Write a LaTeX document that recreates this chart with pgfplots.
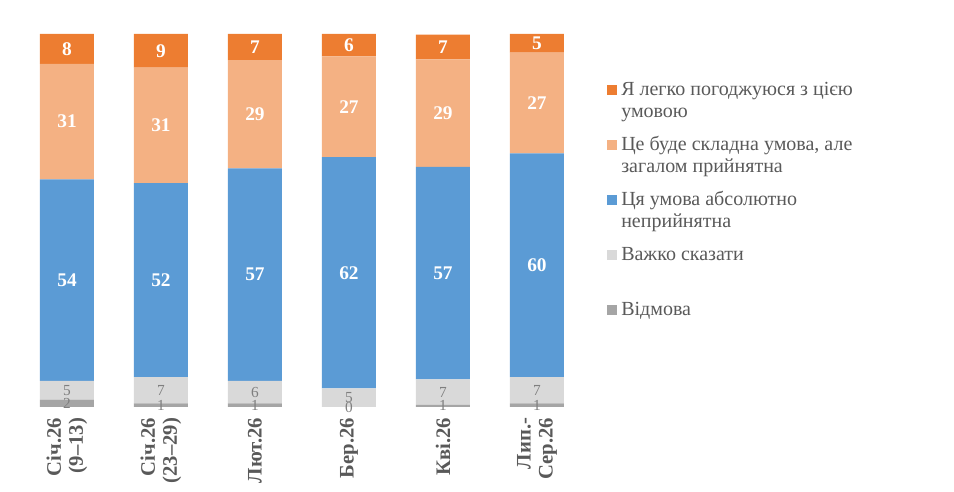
\documentclass[border=0pt]{standalone}
\usepackage{fontspec}
\setmainfont{Liberation Serif}
\usepackage{pgfplots}
\usepackage{pgfplotstable}
\pgfplotsset{compat=1.18}
\definecolor{cOr}{HTML}{ED7D31}
\definecolor{cLo}{HTML}{F4B183}
\definecolor{cBl}{HTML}{5B9BD5}
\definecolor{cLg}{HTML}{D9D9D9}
\definecolor{cDg}{HTML}{A5A5A5}
\definecolor{cTx}{HTML}{595959}
\definecolor{cLab}{HTML}{7F7F7F}
% y values (as drawn) and labels (as printed)
\pgfplotstableread{
x r   rL h   hL a    aL e    eL g   gL
0 2   2  5   5  54   54 31   31 8   8
1 1   1  7   7  52   52 31   31 9   9
2 1   1  6   6  57   57 29   29 7   7
3 0   0  5   5  62   62 27   27 6   6
4 0.6 1  6.8 7  57   57 28.8 29 6.6 7
5 1   1  7   7  60   60 27   27 5   5
}\data
\newcommand{\lent}[2]{\parbox[t]{230pt}{\strut #1\\\strut #2}}
\pgfplotsset{
  base/.style={at={(15pt,63.75pt)}, anchor=south west,
    scale only axis, width=423pt, height=279.75pt,
    xmin=-0.5, xmax=5.5, ymin=0, ymax=100, clip=false},
  wlab/.style={draw=none, mark=none, nodes near coords,
    every node near coord/.style={anchor=center, text=white, font=\bfseries\fontsize{14.5}{16}\selectfont}},
  glab/.style={draw=none, mark=none, nodes near coords,
    every node near coord/.style={anchor=center, text=cLab, font=\fontsize{11.5}{13}\selectfont}},
}
\begin{document}
\begin{tikzpicture}
\path[use as bounding box] (0,0) rectangle (715.5pt,369pt);
\begin{axis}[
  base,
  ybar stacked, bar width=40.5pt,
  axis line style={draw=none},
  major tick length=0pt,
  ytick=\empty,
  xtick={0,1,2,3,4,5},
  xticklabels={{Січ.26\\(9–13)},{Січ.26\\(23–29)},{Лют.26},{Бер.26},{Кві.26},{Лип.-\\Сер.26}},
  xticklabel style={yshift=-8pt, rotate=90, anchor=east, align=right, inner sep=0pt,
    font=\bfseries\fontsize{15.5}{16.5}\selectfont, text=cTx},
  reverse legend,
  legend image code/.code={\fill[#1] (0pt,0pt) rectangle (7.5pt,7.5pt);},
  legend style={at={(axis description cs:1.0408,0.8777)}, anchor=north west,
    draw=none, fill=none, inner sep=0pt, column sep=3pt, row sep=8.25pt,
    cells={anchor=base west},
    nodes={anchor=base west, inner sep=0pt, text height=11.55pt, text depth=21.45pt,
      font=\fontsize{15}{16.5}\selectfont, text=cTx}},
]
\addplot[fill=cDg, draw=none] table[x=x, y=r] {\data};
\addplot[fill=cLg, draw=none] table[x=x, y=h] {\data};
\addplot[fill=cBl, draw=none] table[x=x, y=a] {\data};
\addplot[fill=cLo, draw=none] table[x=x, y=e] {\data};
\addplot[fill=cOr, draw=none] table[x=x, y=g] {\data};
\legend{{\lent{Відмова}{}},{\lent{Важко сказати}{}},{\lent{Ця умова абсолютно}{неприйнятна}},{\lent{Це буде складна умова, але}{загалом прийнятна}},{\lent{Я легко погоджуюся з цією}{умовою}}}
\end{axis}
\begin{axis}[
  base, hide axis,
  point meta=explicit,
  /pgf/number format/assume math mode=true,
]
\addplot[glab] table[x=x, y expr=\thisrow{r}/2, meta=rL] {\data};
\addplot[glab] table[x=x, y expr=\thisrow{r}+\thisrow{h}/2, meta=hL] {\data};
\addplot[wlab] table[x=x, y expr=\thisrow{r}+\thisrow{h}+\thisrow{a}/2, meta=aL] {\data};
\addplot[wlab] table[x=x, y expr=\thisrow{r}+\thisrow{h}+\thisrow{a}+\thisrow{e}/2, meta=eL] {\data};
\addplot[wlab] table[x=x, y expr=\thisrow{r}+\thisrow{h}+\thisrow{a}+\thisrow{e}+\thisrow{g}/2, meta=gL] {\data};
\end{axis}
\end{tikzpicture}
\end{document}
